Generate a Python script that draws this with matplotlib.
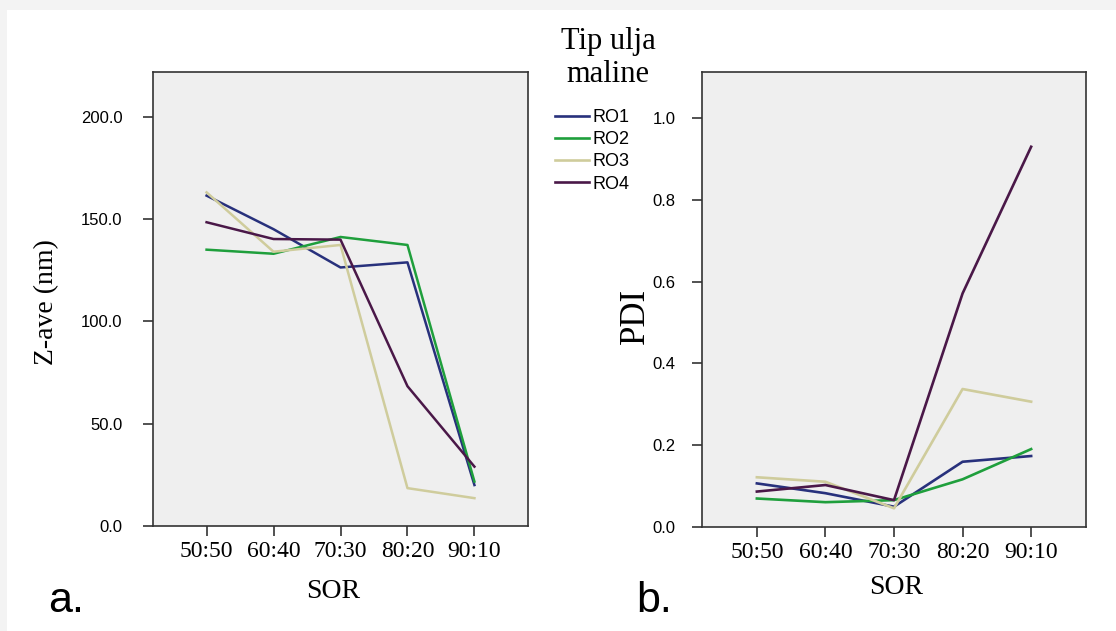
import matplotlib.pyplot as plt
from matplotlib.patches import Rectangle
from matplotlib.lines import Line2D

# data
sor = ['50:50', '60:40', '70:30', '80:20', '90:10']
oils = ['RO1', 'RO2', 'RO3', 'RO4']
colors = ['#28317c', '#1f9f3c', '#cfcc9c', '#4a1848']

zave = {
    'RO1': [161.4, 145.0, 126.3, 128.8, 20.0],
    'RO2': [135.0, 133.0, 141.2, 137.3, 21.7],
    'RO3': [163.0, 134.0, 137.3, 18.5, 13.6],
    'RO4': [148.4, 140.2, 139.9, 68.3, 29.0],
}
pdi = {
    'RO1': [0.106, 0.082, 0.049, 0.159, 0.173],
    'RO2': [0.069, 0.060, 0.065, 0.116, 0.190],
    'RO3': [0.121, 0.110, 0.045, 0.337, 0.306],
    'RO4': [0.086, 0.102, 0.065, 0.571, 0.930],
}

zave_ticks = [0, 50, 100, 150, 200]
pdi_ticks = [0.0, 0.2, 0.4, 0.6, 0.8, 1.0]

fig = plt.figure(figsize=(11.16, 6.31), dpi=100)
fig.patch.set_facecolor('#f3f3f3')
fig.patches.append(Rectangle((7 / 1116, 0), 1, 1 - 10 / 631, transform=fig.transFigure,
                             facecolor='white', edgecolor='none', zorder=-10))

serif = ['Liberation Serif', 'DejaVu Serif']
sans = ['Liberation Sans', 'DejaVu Sans']

ax1 = fig.add_axes([153 / 1116, 1 - 526 / 631, 375 / 1116, 454 / 631])
ax2 = fig.add_axes([702 / 1116, 1 - 526.7 / 631, 384 / 1116, 454.7 / 631])

x = list(range(len(sor)))
for name, c in zip(oils, colors):
    ax1.plot(x, zave[name], color=c, lw=1.8)
    ax2.plot(x, pdi[name], color=c, lw=1.9)

for ax in (ax1, ax2):
    ax.set_facecolor('#efefef')
    ax.set_xlim(-0.8, 4.8)
    ax.set_xticks(x)
    ax.set_xticklabels(sor, fontfamily=serif, fontsize=17)
    ax.tick_params(axis='x', length=7, width=1.2, pad=4, color='#333333')
    ax.tick_params(axis='y', length=7, width=1.2, color='#333333')
    for sp in ax.spines.values():
        sp.set_linewidth(1.2)
        sp.set_color('#333333')

ax1.set_ylim(0, 221.8)
ax1.set_yticks(zave_ticks)
ax1.set_yticklabels([f'{v:.1f}' for v in zave_ticks], fontfamily=sans, fontsize=12)
ax1.tick_params(axis='y', pad=15)

ax2.set_ylim(0, 1.113)
ax2.set_yticks(pdi_ticks)
ax2.set_yticklabels([f'{v:.1f}' for v in pdi_ticks], fontfamily=sans, fontsize=12)
ax2.tick_params(axis='y', pad=12)

fig.text(333 / 1116, 1 - 592 / 631, 'SOR', family=serif, fontsize=20, ha='center', va='center')
fig.text(896 / 1116, 1 - 588 / 631, 'SOR', family=serif, fontsize=20, ha='center', va='center')
fig.text(47 / 1116, 1 - 302 / 631, 'Z-ave (nm)', family=serif, fontsize=20, rotation=90,
         ha='center', va='center')
fig.text(635 / 1116, 1 - 316 / 631, 'PDI', family=serif, fontsize=25, rotation=90,
         ha='center', va='center')
fig.text(48 / 1116, 1 - 612 / 631, 'a.', family=sans, fontsize=31, ha='left', va='baseline')
fig.text(636 / 1116, 1 - 612 / 631, 'b.', family=sans, fontsize=31, ha='left', va='baseline')

fig.text(608 / 1116, 1 - 42 / 631, 'Tip ulja', family=serif, fontsize=22, ha='center', va='center')
fig.text(608 / 1116, 1 - 74 / 631, 'maline', family=serif, fontsize=22, ha='center', va='center')

handles = [Line2D([], [], color=c, lw=1.9) for c in colors]
fig.legend(handles, oils, loc='upper left', bbox_to_anchor=(555 / 1116, 1 - 109 / 631),
           frameon=False, prop={'family': sans, 'size': 13}, handlelength=1.9,
           handletextpad=0.2, labelspacing=0.29, borderpad=0, borderaxespad=0)

fig.savefig('out.png', dpi=100)
